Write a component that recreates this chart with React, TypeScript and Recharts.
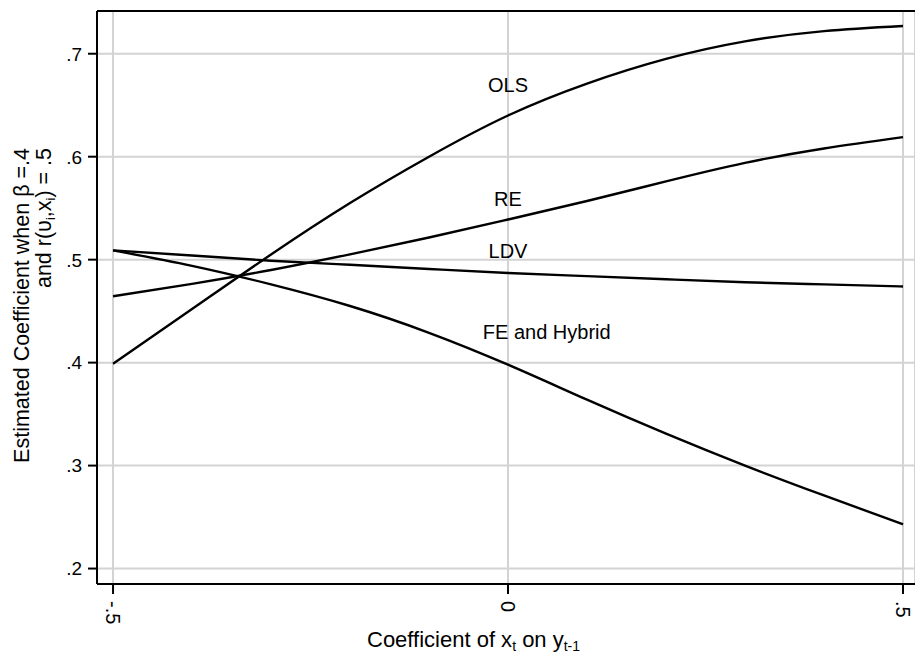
import React from 'react'
import {
  LineChart,
  Line,
  XAxis,
  YAxis,
  CartesianGrid,
  ReferenceLine,
  ReferenceDot,
  Label,
} from 'recharts'

// coefficient of x_t on y_t-1
const lagCoef = [-0.5, -0.4, -0.3, -0.2, -0.1, 0, 0.1, 0.2, 0.3, 0.4, 0.5]

// estimated coefficient for each estimator
const olsEst = [0.399, 0.452, 0.505, 0.555, 0.6, 0.64, 0.671, 0.695, 0.712, 0.722, 0.727]
const reEst = [0.4645, 0.4765, 0.49, 0.5052, 0.5215, 0.539, 0.557, 0.576, 0.594, 0.608, 0.619]
const ldvEst = [0.509, 0.504, 0.499, 0.495, 0.491, 0.487, 0.484, 0.481, 0.478, 0.476, 0.474]
const feEst = [0.509, 0.494, 0.476, 0.455, 0.429, 0.398, 0.364, 0.331, 0.3, 0.271, 0.243]

const xTicks = [-0.5, 0, 0.5]
const yTicks = [0.2, 0.3, 0.4, 0.5, 0.6, 0.7]

// in-plot labels: text, x, y
const seriesLabels = ['OLS', 'RE', 'LDV', 'FE and Hybrid']
const labelX = [0, 0, 0, 0.049]
const labelY = [0.6696, 0.5588, 0.5081, 0.4296]

const X_DOMAIN = [-0.5203, 0.5152]
const Y_DOMAIN = [0.185, 0.7415]

const FONT = '"Liberation Sans", Arial, Helvetica, sans-serif'
const GRID = '#d3d3d3'

const data = lagCoef.map((x, i) => ({
  x,
  ols: olsEst[i],
  re: reEst[i],
  ldv: ldvEst[i],
  fe: feEst[i],
}))

// stata style: drop the leading zero
const fmt = (v: number) => {
  if (v === 0) return '0'
  const s = Math.abs(v).toFixed(1).replace(/^0/, '')
  return v < 0 ? '-' + s : s
}

const XTick = ({ x, y, payload }: any) => {
  const ty = y + 5
  return (
    <text
      x={x}
      y={ty}
      transform={`rotate(90 ${x} ${ty})`}
      textAnchor="start"
      dominantBaseline="central"
      fill="#000"
      fontSize={20}
      fontFamily={FONT}
    >
      {fmt(payload.value)}
    </text>
  )
}

const YTick = ({ x, y, payload }: any) => (
  <text
    x={x}
    y={y}
    dy="0.36em"
    textAnchor="end"
    fill="#000"
    fontSize={19}
    fontFamily={FONT}
  >
    {fmt(payload.value)}
  </text>
)

const YTitle = () => (
  <g fontFamily={FONT} fontSize={21.5} fill="#000">
    <text x={29} y={148} transform="rotate(-90 29 148)" textAnchor="end">
      Estimated Coefficient when β =.4
    </text>
    <text x={51} y={148} transform="rotate(-90 51 148)" textAnchor="end">
      and r(υ<tspan fontSize={13} dy={4}>i</tspan>
      <tspan dy={-4}>,x</tspan>
      <tspan fontSize={13} dy={4}>i</tspan>
      <tspan dy={-4}>) = .5</tspan>
    </text>
  </g>
)

const XTitle = () => (
  <text x={367} y={647} fontFamily={FONT} fontSize={22} fill="#000">
    Coefficient of x<tspan fontSize={14} dy={4}>t</tspan>
    <tspan dy={-4}> on y</tspan>
    <tspan fontSize={14} dy={4}>t-1</tspan>
  </text>
)

export default function App() {
  return (
    <div style={{ position: 'absolute', left: 0, top: 0, background: '#fff' }}>
      <LineChart
        width={915}
        height={658}
        data={data}
        margin={{ top: 11, right: 0, bottom: 0, left: 0 }}
      >
        <CartesianGrid stroke={GRID} strokeWidth={2} />
        <XAxis
          dataKey="x"
          type="number"
          domain={X_DOMAIN}
          allowDataOverflow
          ticks={xTicks}
          height={74}
          tickSize={10}
          tickMargin={2}
          axisLine={{ stroke: '#000', strokeWidth: 2 }}
          tickLine={{ stroke: '#000', strokeWidth: 2 }}
          tick={<XTick />}
          interval={0}
        >
          <Label content={<XTitle />} />
        </XAxis>
        <YAxis
          type="number"
          domain={Y_DOMAIN}
          allowDataOverflow
          ticks={yTicks}
          width={97}
          tickSize={9}
          tickMargin={6}
          axisLine={{ stroke: '#000', strokeWidth: 2 }}
          tickLine={{ stroke: '#000', strokeWidth: 2 }}
          tick={<YTick />}
          interval={0}
        >
          <Label content={<YTitle />} />
        </YAxis>
        <ReferenceLine y={Y_DOMAIN[1]} stroke="#000" strokeWidth={2} />
        <Line type="natural" dataKey="ols" stroke="#000" strokeWidth={2.4} dot={false} isAnimationActive={false} />
        <Line type="natural" dataKey="re" stroke="#000" strokeWidth={2.4} dot={false} isAnimationActive={false} />
        <Line type="natural" dataKey="ldv" stroke="#000" strokeWidth={2.4} dot={false} isAnimationActive={false} />
        <Line type="natural" dataKey="fe" stroke="#000" strokeWidth={2.4} dot={false} isAnimationActive={false} />
        {seriesLabels.map((name, i) => (
          <ReferenceDot
            key={name}
            x={labelX[i]}
            y={labelY[i]}
            r={0}
            fill="none"
            stroke="none"
            label={{
              value: name,
              position: 'center',
              fill: '#000',
              fontSize: 20,
              fontFamily: FONT,
            }}
          />
        ))}
      </LineChart>
    </div>
  )
}
